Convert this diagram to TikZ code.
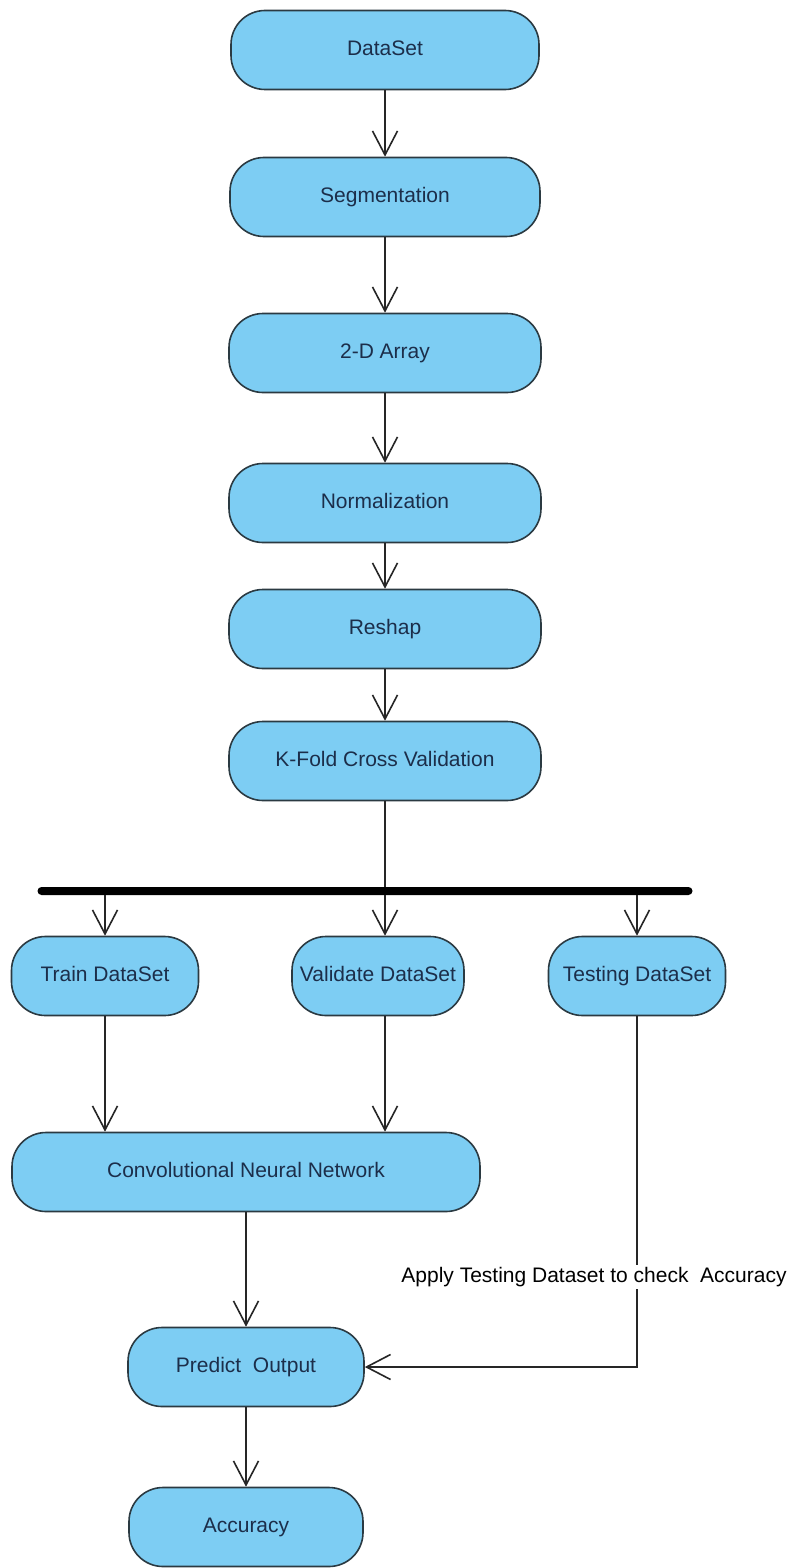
\documentclass[tikz,border=0pt]{standalone}
\usepackage{fontspec}
\setmainfont{Liberation Sans}
\usetikzlibrary{arrows.meta,positioning}
\definecolor{boxblue}{HTML}{7DCDF3}
\definecolor{boxline}{HTML}{2B3A42}
\definecolor{boxtext}{HTML}{1C2E4A}
\tikzset{
    %Define standard arrow tip
    >={Straight Barb[length=24pt,width=25pt]},
    %Define style for activity boxes
    activity/.style={
           rectangle,
           rounded corners=34pt,
           draw=boxline, line width=1.6pt,
           fill=boxblue,
           text=boxtext,
           minimum height=79pt,
           text height=15pt,
           text depth=4pt,
           font=\fontsize{21}{25}\selectfont,
           text centered},
    %Define style for the fork bar
    forkbar/.style={
           rectangle,
           rounded corners=4pt,
           fill=black,
           inner sep=0pt,
           minimum width=655pt,
           minimum height=8pt},
    % Define arrow style
    pil/.style={
           ->,
           line width=1.6pt,
           draw=black!85},
    every node/.style={align=center}
}
\begin{document}
\begin{tikzpicture}[x=1pt,y=-1pt]
\useasboundingbox[fill=white] (0,0) rectangle (801,1568);
%preparation chain
\node[activity, minimum width=308pt] (dataset) at (385,50) {DataSet};
\node[activity, minimum width=310pt] (segment) at (385,197) {Segmentation};
\node[activity, minimum width=312pt] (array) at (385,353) {2-D Array};
\node[activity, minimum width=312pt] (normal) at (385,503) {Normalization};
\node[activity, minimum width=312pt] (reshap) at (385,629) {Reshap};
\node[activity, minimum width=312pt] (kfold) at (385,761) {K-Fold Cross Validation};
\draw[pil] (dataset.south) -- (segment.north);
\draw[pil] (segment.south) -- (array.north);
\draw[pil] (array.south) -- (normal.north);
\draw[pil] (normal.south) -- (reshap.north);
\draw[pil] (reshap.south) -- (kfold.north);
%fork into the three data sets
\node[forkbar] (fork) at (365,891) {};
\draw[line width=1.6pt, draw=black!85] (kfold.south) -- (kfold.south |- fork.north);
\node[activity, minimum width=187pt] (train) at (105,976) {Train DataSet};
\node[activity, minimum width=172pt] (validate) at (378,976) {Validate DataSet};
\node[activity, minimum width=177pt] (testing) at (637,976) {Testing DataSet};
\draw[pil] (fork.south -| train) -- (train.north);
\draw[pil] (fork.south -| kfold) -- (validate.north -| kfold);
\draw[pil] (fork.south -| testing) -- (testing.north);
%network and result
\node[activity, minimum width=468pt] (cnn) at (246,1172) {Convolutional Neural Network};
\node[activity, minimum width=236pt] (predict) at (246,1367) {Predict\ \ Output};
\node[activity, minimum width=234pt] (accuracy) at (246,1527) {Accuracy};
\draw[pil] (train.south) -- (train.south |- cnn.north);
\draw[pil] (validate.south -| kfold) -- (cnn.north -| kfold);
\draw[pil] (cnn.south) -- (predict.north);
\draw[pil] (predict.south) -- (accuracy.north);
\draw[pil] (testing.south) |- (predict.east);
\node[fill=white, inner sep=2pt, font=\fontsize{21}{25}\selectfont] (apply) at (594,1277)
  {Apply Testing Dataset to check\ \ Accuracy};
\end{tikzpicture}
\end{document}
